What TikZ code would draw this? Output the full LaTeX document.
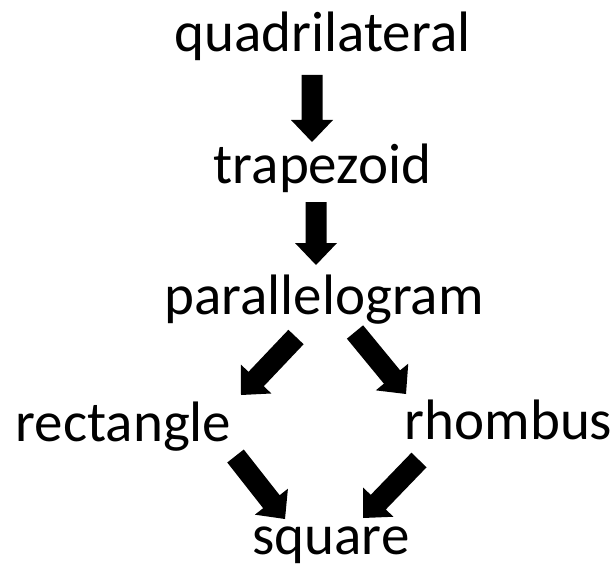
\documentclass[tikz,border=0pt]{standalone}
\usepackage{fontspec}
\setmainfont{Carlito}
\usetikzlibrary{calc}
\tikzset{lbl/.style={anchor=base, inner sep=0pt, font=\fontsize{57}{60}\selectfont}}
\newcommand{\blockarrow}[2]{%
  \coordinate (h) at ($(#2)!22pt!(#1)$);
  \fill ($(#1)!10.5pt!90:(#2)$) -- ($(h)!10.5pt!90:(#2)$) -- ($(h)!21pt!90:(#2)$) -- (#2)
     -- ($(h)!21pt!-90:(#2)$) -- ($(h)!10.5pt!-90:(#2)$) -- ($(#1)!10.5pt!-90:(#2)$) -- cycle;}
\begin{document}
\begin{tikzpicture}[x=1pt,y=-1pt]
\useasboundingbox (0,0) rectangle (616,567);
\node[lbl] (quad) at (322.5,52) {quadrilateral};
\node[lbl] (trap) at (322.5,183) {trapezoid};
\node[lbl] (para) at (324,314) {parallelogram};
\node[lbl] (rect) at (123.5,441) {rectangle};
\node[lbl] (rhom) at (508.5,439) {rhombus};
\node[lbl] (squa) at (331,554) {square};
\coordinate (a1s) at (312,75);   \coordinate (a1e) at (312,142);
\coordinate (a2s) at (316,202);  \coordinate (a2e) at (316,265);
\coordinate (a3s) at (296,337);  \coordinate (a3e) at (241,395);
\coordinate (a4s) at (355,332);  \coordinate (a4e) at (406,394);
\coordinate (a5s) at (235.5,456);\coordinate (a5e) at (285,519);
\coordinate (a6s) at (419,460);  \coordinate (a6e) at (363,518);
\blockarrow{a1s}{a1e}
\blockarrow{a2s}{a2e}
\blockarrow{a3s}{a3e}
\blockarrow{a4s}{a4e}
\blockarrow{a5s}{a5e}
\blockarrow{a6s}{a6e}
\end{tikzpicture}
\end{document}
